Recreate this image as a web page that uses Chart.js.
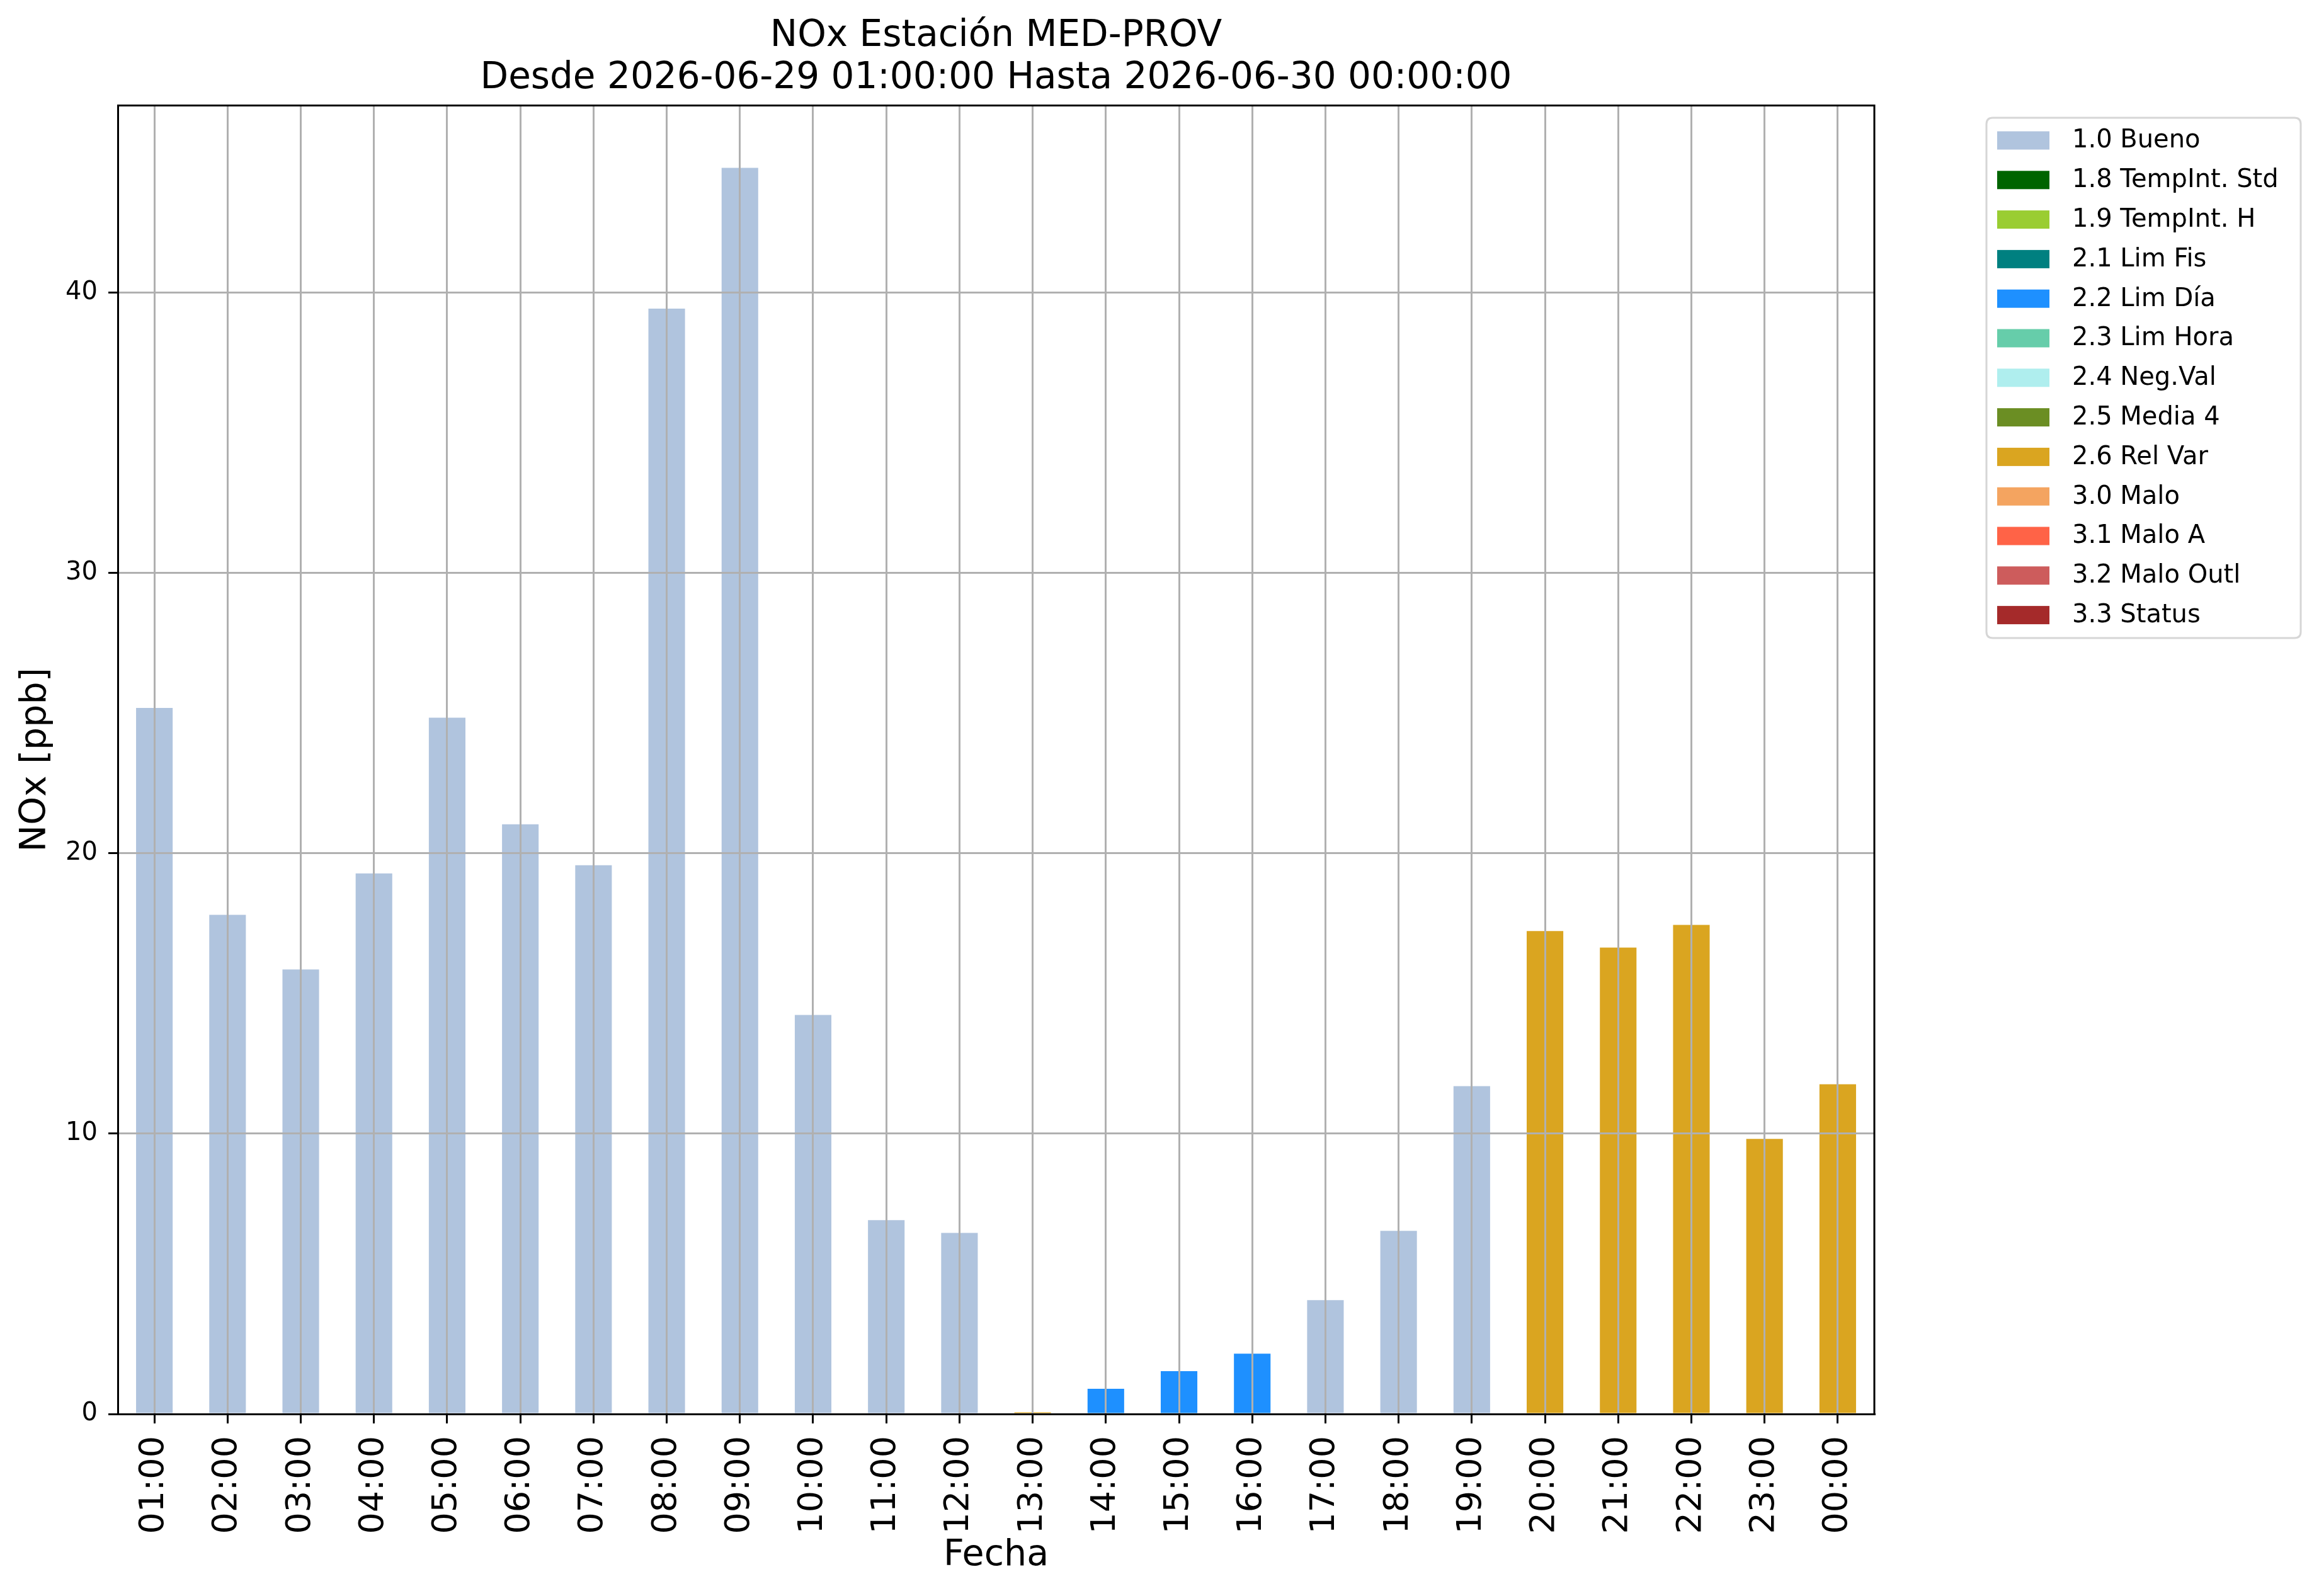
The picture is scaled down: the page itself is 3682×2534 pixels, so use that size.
<!DOCTYPE html>
<html>
<head>
<meta charset="utf-8">
<title>NOx Estación MED-PROV</title>
<script src="https://cdn.jsdelivr.net/npm/chart.js@4.4.1/dist/chart.umd.min.js"></script>
<style>
  html, body { margin: 0; padding: 0; background: #ffffff; }
  canvas { display: block; }
</style>
</head>
<body>
<canvas id="myChart" width="3682" height="2534" style="width:3682px;height:2534px"></canvas>
<script>
// -----------------------------------------------------------------------------------------------------------------------------------------
const hours = ["01:00", "02:00", "03:00", "04:00", "05:00", "06:00", "07:00", "08:00", "09:00", "10:00", "11:00", "12:00",
  "13:00", "14:00", "15:00", "16:00", "17:00", "18:00", "19:00", "20:00", "21:00", "22:00", "23:00", "00:00"];
const noxValues = [25.18, 17.80, 15.85, 19.28, 24.83, 21.03, 19.57, 39.42, 44.44, 14.23, 6.91, 6.46,
  0.06, 0.90, 1.53, 2.15, 4.06, 6.53, 11.69, 17.22, 16.63, 17.44, 9.81, 11.76];
const hourFlags = ["1.0", "1.0", "1.0", "1.0", "1.0", "1.0", "1.0", "1.0", "1.0", "1.0", "1.0", "1.0",
  "2.6", "2.2", "2.2", "2.2", "1.0", "1.0", "1.0", "2.6", "2.6", "2.6", "2.6", "2.6"];
const flagCodes = ["1.0", "1.8", "1.9", "2.1", "2.2", "2.3", "2.4", "2.5", "2.6", "3.0", "3.1", "3.2", "3.3"];
const flagNames = ["1.0 Bueno", "1.8 TempInt. Std", "1.9 TempInt. H", "2.1 Lim Fis", "2.2 Lim Día", "2.3 Lim Hora",
  "2.4 Neg.Val", "2.5 Media 4", "2.6 Rel Var", "3.0 Malo", "3.1 Malo A", "3.2 Malo Outl", "3.3 Status"];
const flagColors = ["#b0c4de", "#006400", "#9acd32", "#008080", "#1e90ff", "#66cdaa",
  "#afeeee", "#6b8e23", "#daa520", "#f4a460", "#ff6347", "#cd5c5c", "#a52a2a"];
const yTicksStep = 10;
// -----------------------------------------------------------------------------------------------------------------------------------------
const FONT = "'DejaVu Sans', 'Liberation Sans', sans-serif";
const ctx = document.getElementById("myChart");

let datasets = [];
flagCodes.forEach((code, k) => {
  datasets.push({
    label: flagNames[k],
    data: noxValues.map((v, i) => (hourFlags[i] === code ? v : null)),
    backgroundColor: flagColors[k],
    borderWidth: 0,
    categoryPercentage: 1.0,
    barPercentage: 0.5,
  });
});

// matplotlib style autoscale: 5% headroom over the tallest bar
const yMax = Math.max(...noxValues) * 1.05;

// -----------------------------------------------------------------------------------------------------------------------------------------
// top/right spines and the boxed legend on the right
const framePlugin = {
  id: "frame",
  afterDraw(chart) {
    const c = chart.ctx;
    const a = chart.chartArea;
    c.save();
    c.strokeStyle = "#000000";
    c.lineWidth = 3;
    c.beginPath();
    c.moveTo(a.left, a.top);
    c.lineTo(a.right, a.top);
    c.lineTo(a.right, a.bottom);
    c.stroke();

    // legend box
    const bx = a.right + 178, by = 187, bw = 499, bh = 826, r = 10;
    c.beginPath();
    c.moveTo(bx + r, by);
    c.lineTo(bx + bw - r, by);
    c.quadraticCurveTo(bx + bw, by, bx + bw, by + r);
    c.lineTo(bx + bw, by + bh - r);
    c.quadraticCurveTo(bx + bw, by + bh, bx + bw - r, by + bh);
    c.lineTo(bx + r, by + bh);
    c.quadraticCurveTo(bx, by + bh, bx, by + bh - r);
    c.lineTo(bx, by + r);
    c.quadraticCurveTo(bx, by, bx + r, by);
    c.closePath();
    c.fillStyle = "rgba(255,255,255,0.8)";
    c.fill();
    c.strokeStyle = "#d6d6d6";
    c.lineWidth = 3;
    c.stroke();

    c.font = "40px " + FONT;
    c.textBaseline = "middle";
    c.textAlign = "left";
    chart.data.datasets.forEach((ds, i) => {
      const cy = by + 36 + i * 62.8;
      c.fillStyle = ds.backgroundColor;
      c.fillRect(bx + 17, cy - 14.5, 83, 29);
      c.fillStyle = "#000000";
      c.fillText(ds.label, bx + 136, cy + 1);
    });
    c.restore();
  },
};

// -----------------------------------------------------------------------------------------------------------------------------------------
const myChart = new Chart(ctx, {
  type: "bar",
  data: {
    labels: hours,
    datasets: datasets,
  },
  options: {
    responsive: false,
    animation: false,
    devicePixelRatio: 1,
    layout: {
      padding: { left: 0, right: 706, top: 0, bottom: 0 },
    },
    plugins: {
      legend: { display: false },
      tooltip: { enabled: false },
      title: {
        display: true,
        fullSize: false,
        text: ["NOx Estación MED-PROV", "Desde 2026-06-29 01:00:00 Hasta 2026-06-30 00:00:00"],
        color: "#000000",
        font: { family: FONT, size: 58, weight: "normal", lineHeight: 1.16 },
        padding: { top: 24, bottom: 9 },
      },
    },
    scales: {
      x: {
        stacked: true,
        offset: true,
        afterFit(scale) {
          scale.height = 289;
        },
        grid: {
          offset: false,
          z: 1,
          color: "#b0b0b0",
          lineWidth: 3,
          tickLength: 15,
          tickColor: "#000000",
          tickWidth: 3,
        },
        border: { color: "#000000", width: 3, z: 2 },
        ticks: {
          autoSkip: false,
          minRotation: 90,
          maxRotation: 90,
          padding: 20,
          color: "#000000",
          font: { family: FONT, size: 54 },
        },
        title: {
          display: true,
          text: "Fecha",
          color: "#000000",
          font: { family: FONT, size: 57 },
          padding: { top: 0, bottom: 30 },
        },
      },
      y: {
        stacked: true,
        min: 0,
        max: yMax,
        afterFit(scale) {
          scale.width = 187;
        },
        grid: {
          z: 1,
          color: "#b0b0b0",
          lineWidth: 3,
          tickLength: 15,
          tickColor: "#000000",
          tickWidth: 3,
        },
        border: { color: "#000000", width: 3, z: 2 },
        ticks: {
          stepSize: yTicksStep,
          includeBounds: false,
          padding: 17,
          color: "#000000",
          font: { family: FONT, size: 40 },
        },
        title: {
          display: true,
          text: "NOx [ppb]",
          color: "#000000",
          font: { family: FONT, size: 57 },
          padding: { top: 23, bottom: 0 },
        },
      },
    },
  },
  plugins: [framePlugin],
});
</script>
</body>
</html>
